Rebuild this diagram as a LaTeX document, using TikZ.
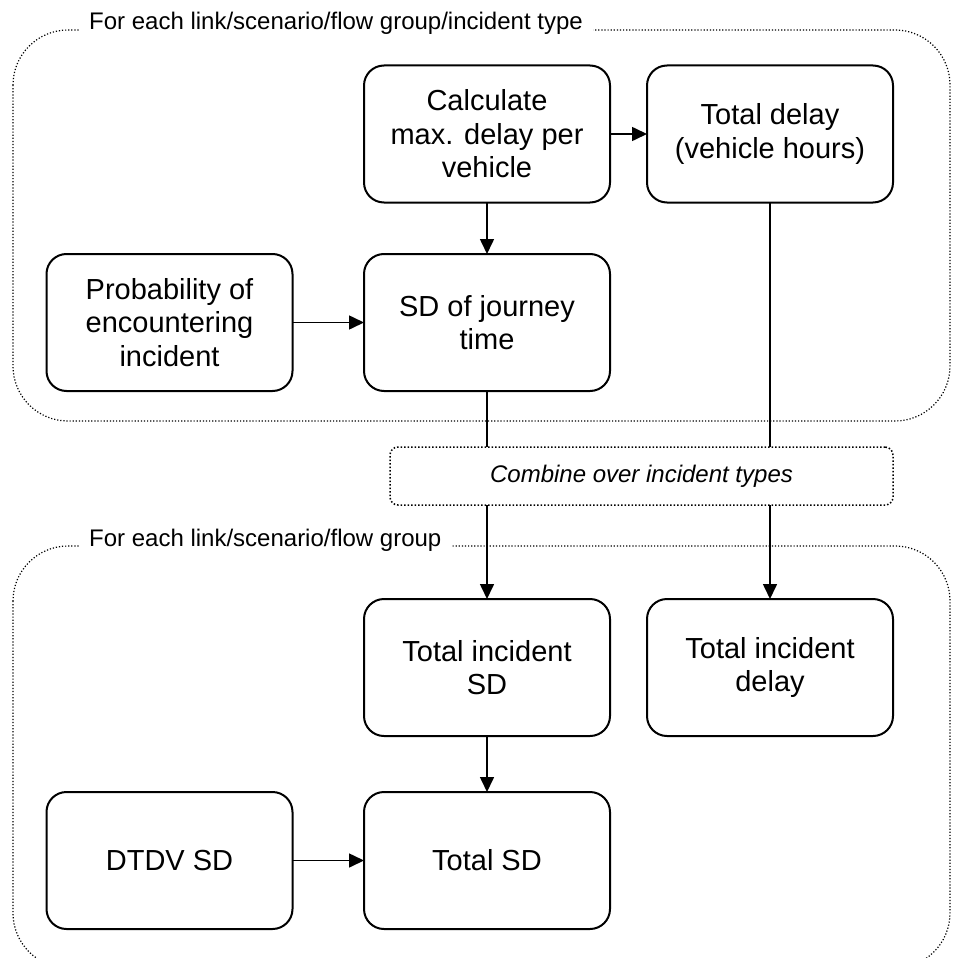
\documentclass[tikz,border=0pt]{standalone}
\usepackage{fontspec}
\setmainfont{Liberation Sans}
\usetikzlibrary{arrows.meta}
\begin{document}
\begin{tikzpicture}[x=1pt,y=-1pt,
  box/.style={draw, line width=2pt, rounded corners=20pt, minimum width=246pt, minimum height=137pt, align=center, inner sep=0pt, outer sep=0pt, font=\fontsize{29}{33.5}\selectfont},
  combine/.style={draw, line width=1.5pt, dash pattern=on 1.5pt off 2pt, rounded corners=8pt, minimum width=503pt, minimum height=58pt, inner sep=0pt, outer sep=0pt, font=\fontsize{24}{28}\selectfont\itshape},
  conn/.style={line width=1.6pt},
  arr/.style={conn, -{Triangle[length=15pt,width=14pt]}},
  frame/.style={line width=1.2pt, dash pattern=on 1.2pt off 1.9pt, rounded corners=55pt},
  ftitle/.style={fill=white, font=\fontsize{24}{28}\selectfont, anchor=base west, inner xsep=10pt, inner ysep=4pt}]
\useasboundingbox (0,0) rectangle (954,958);
\draw[frame] (13,30) rectangle (950,421);
\draw[frame] (13,546) rectangle (950,968);
\node[ftitle] (t1) at (79,30) {For each link/scenario/flow group/incident type};
\node[ftitle] (t2) at (79,546) {For each link/scenario/flow group};
\node[box] (calc) at (487,134) {Calculate\\max. delay per\\vehicle};
\node[box] (tdel) at (770,134) {Total delay\\(vehicle hours)};
\node[box] (prob) at (169.5,322.5) {Probability of\\encountering\\incident};
\node[box] (sdj) at (487,322.5) {SD of journey\\time};
\node[combine] (comb) at (641.5,476) {Combine over incident types};
\node[box] (tisd) at (487,667.5) {Total incident\\SD};
\node[box] (tidel) at (770,667.5) {Total incident\\delay};
\node[box] (dtdv) at (169.5,860.5) {DTDV SD};
\node[box] (tsd) at (487,860.5) {Total SD};
\draw[arr] (calc) -- (tdel);
\draw[arr] (calc) -- (sdj);
\draw[arr] (prob) -- (sdj);
\draw[conn] (sdj.south) -- (sdj.south |- comb.north);
\draw[arr] (sdj.south |- comb.south) -- (tisd.north);
\draw[conn] (tdel.south) -- (tdel.south |- comb.north);
\draw[arr] (tdel.south |- comb.south) -- (tidel.north);
\draw[arr] (tisd) -- (tsd);
\draw[arr] (dtdv) -- (tsd);
\end{tikzpicture}
\end{document}
